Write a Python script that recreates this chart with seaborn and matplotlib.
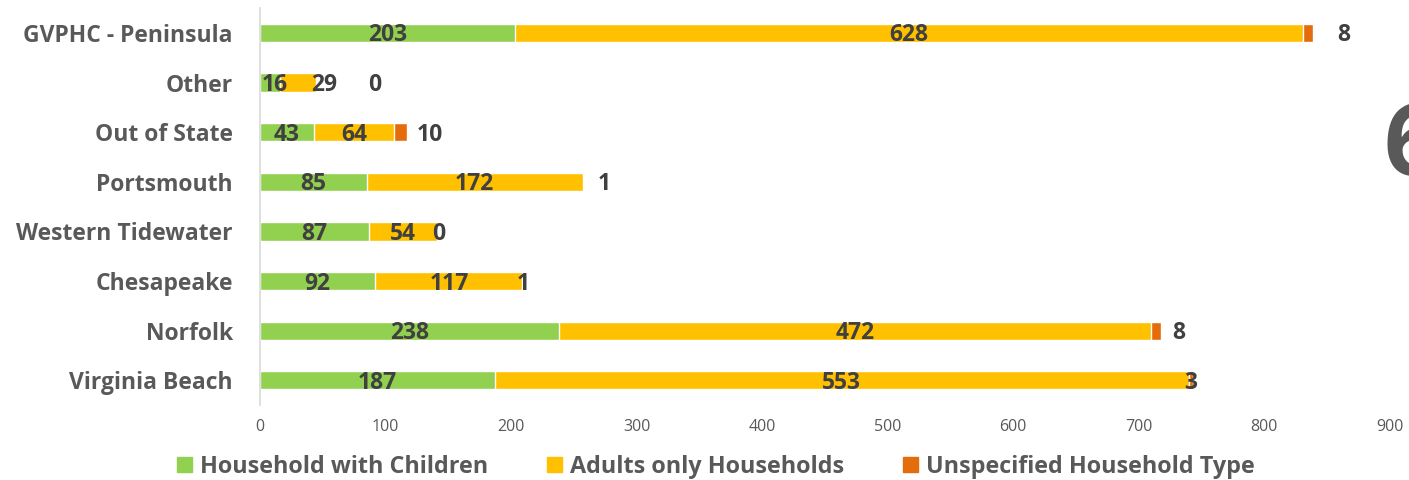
import matplotlib.pyplot as plt
import numpy as np
import pandas as pd
import seaborn as sns
from matplotlib.patches import Patch

# chart data (top to bottom as shown)
regions = ["GVPHC - Peninsula", "Other", "Out of State", "Portsmouth",
           "Western Tidewater", "Chesapeake", "Norfolk", "Virginia Beach"]
with_children = [203, 16, 43, 85, 87, 92, 238, 187]
adults_only = [628, 29, 64, 172, 54, 117, 472, 553]
unspecified = [8, 0, 10, 1, 0, 1, 8, 3]

series_names = ["Household with Children", "Adults only Households",
                "Unspecified Household Type"]
x_ticks = [0, 100, 200, 300, 400, 500, 600, 700, 800, 900]

# manual label nudges (data units), like the hand-moved labels in the original
adult_nudge = [0, 21, 0, 0, 0, 0, 0, 0]
unspec_nudge = [28, 46, 23, 17, 1, 0, 18, 0]

sns.set_theme(style="white")
plt.rcParams["font.family"] = ["Open Sans", "DejaVu Sans"]

GREEN = "#92D050"
YELLOW = "#FFC000"
ORANGE = "#E46C0A"
LABEL = "#404040"
GREY = "#595959"

df = pd.DataFrame({"region": regions, "kids": with_children,
                   "adults": adults_only, "unspec": unspecified})
df["kids_adults"] = df["kids"] + df["adults"]
df["total"] = df["kids_adults"] + df["unspec"]

fig, ax = plt.subplots(figsize=(14.09, 4.8), dpi=100)
fig.subplots_adjust(left=0.1845, right=0.9865, top=0.983, bottom=0.156)

#stacked bars drawn back to front
sns.barplot(data=df, x="total", y="region", color=ORANGE, width=0.37,
            saturation=1, ax=ax)
sns.barplot(data=df, x="kids_adults", y="region", color=YELLOW, width=0.37,
            saturation=1, ax=ax)
sns.barplot(data=df, x="kids", y="region", color=GREEN, width=0.37,
            saturation=1, ax=ax)

# data labels
lbl = dict(ha="center", va="center", fontsize=16.5, fontweight="bold", color=LABEL)
dy = 0.05
for i, row in df.iterrows():
    ax.text(row["kids"] / 2 + (4 if i == 1 else 0), i + dy, str(row["kids"]), **lbl)
    ax.text(row["kids"] + row["adults"] / 2 + adult_nudge[i], i + dy,
            str(row["adults"]), **lbl)
    ax.text(row["kids_adults"] + row["unspec"] / 2 + unspec_nudge[i], i + dy,
            str(row["unspec"]), **lbl)

ax.set_xlim(0, 900)
ax.set_ylim(7.5, -0.5)
ax.set_xticks(x_ticks)
ax.set_xticklabels([str(t) for t in x_ticks], fontsize=11.5, color=GREY)
ax.tick_params(axis="y", labelsize=16.5, labelcolor=GREY, length=0, pad=19.5)
ax.tick_params(axis="x", length=0, pad=10)
for t in ax.get_yticklabels():
    t.set_fontweight("bold")
ax.set_xlabel("")
ax.set_ylabel("")

for side in ["top", "right", "bottom"]:
    ax.spines[side].set_visible(False)
ax.spines["left"].set_color("#D9D9D9")
ax.spines["left"].set_linewidth(1.2)

# legend below the plot
handles = [Patch(color=c) for c in [GREEN, YELLOW, ORANGE]]
leg = fig.legend(handles, series_names, loc="center", bbox_to_anchor=(0.508, 0.028),
                 ncol=3, frameon=False, handlelength=0.66, handleheight=0.66,
                 handletextpad=0.35, columnspacing=2.5,
                 prop={"size": 16.8, "weight": "bold"})
for t in leg.get_texts():
    t.set_color(GREY)

# large clipped digit at the right edge
fig.text(0.982, 0.635, "6", fontsize=72, fontweight="bold", color=GREY,
         ha="left", va="baseline")

fig.savefig("out.png", dpi=100)
